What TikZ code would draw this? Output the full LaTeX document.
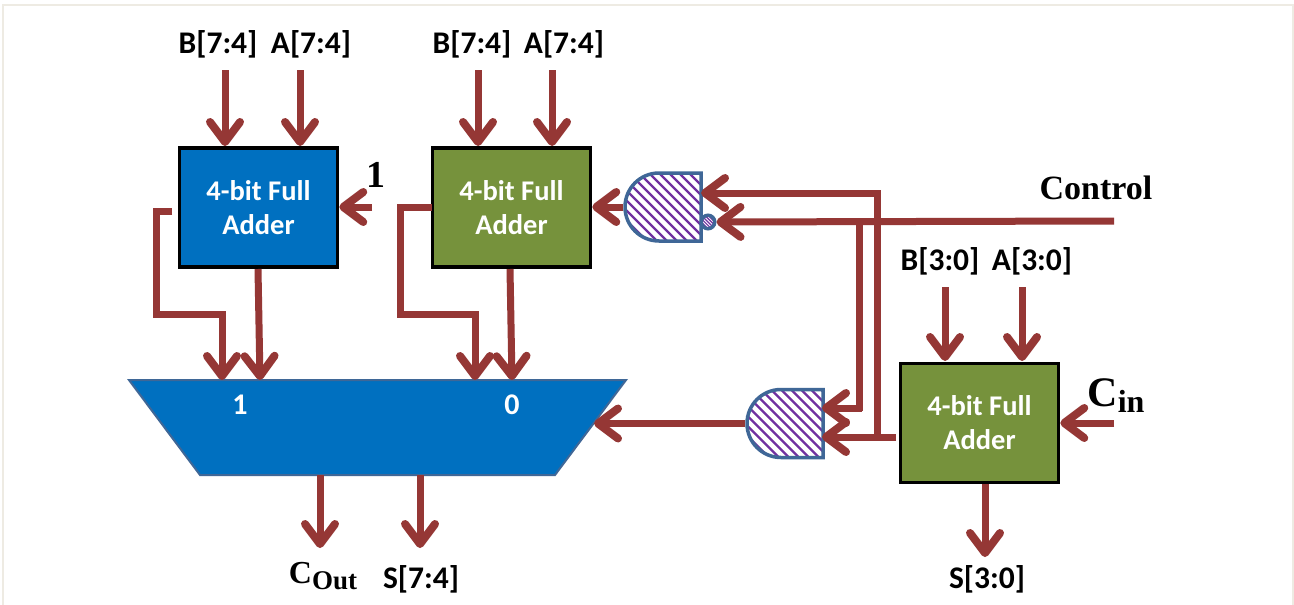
\documentclass[tikz,border=0pt]{standalone}
\usepackage{fontspec}
\setmainfont{Carlito}
\newfontfamily\serifb{Liberation Serif}
\usetikzlibrary{arrows.meta,shapes.misc,shapes.geometric}
\definecolor{wire}{HTML}{953735}
\definecolor{bluefill}{HTML}{0070C0}
\definecolor{greenfill}{HTML}{76923C}
\definecolor{gateline}{HTML}{3F6797}
\definecolor{hatch}{HTML}{7030A0}
\definecolor{framec}{HTML}{EEEBE3}
\tikzset{
  wirel/.style={draw=wire,line width=7pt,line cap=butt,line join=miter,-{Straight Barb[length=20pt,width=30pt,line width=8pt,round]}},
  plainwire/.style={draw=wire,line width=7pt,line join=miter},
  adder/.style={draw=black,line width=3.5pt,minimum width=158pt,minimum height=119pt,inner sep=0pt,align=center,text=white,font=\bfseries\fontsize{28.5}{34}\selectfont},
  lab/.style={inner sep=0pt,font=\bfseries\fontsize{31.5}{34}\selectfont},
  serlab/.style={inner sep=0pt,font=\serifb\bfseries\fontsize{34}{36}\selectfont},
  gatehatch/.style={path picture={
    \foreach \k in {-12,...,12}{
      \draw[hatch,line width=2.4pt] ([xshift=\k*10pt-60pt,yshift=60pt]path picture bounding box.center) -- ++(120pt,-120pt);
    }}},
  gate/.style={rounded rectangle,rounded rectangle right arc=none,draw=gateline,line width=3.5pt,fill=white,
    minimum width=76pt,minimum height=68pt,inner sep=0pt,gatehatch},
  bubble/.style={circle,draw=gateline,line width=3.5pt,fill=white,minimum size=13.5pt,inner sep=0pt,
    path picture={\foreach \k in {-4,...,4}{\draw[hatch,line width=1.2pt] ([xshift=\k*3.4pt-15pt,yshift=15pt]path picture bounding box.center) -- ++(30pt,-30pt);}}},
}
\begin{document}
\begin{tikzpicture}[x=1pt,y=-1pt]
\useasboundingbox (0,0) rectangle (1294,605);
\fill[white] (0,0) rectangle (1294,605);
\draw[framec,line width=2.5pt] (3,605) -- (3,5) -- (1293,5) -- (1293,605);
% blocks
\node[adder,fill=bluefill] (fa1) at (258.5,207.5) {4-bit Full\\Adder};
\node[adder,fill=greenfill] (fa2) at (511.5,207.5) {4-bit Full\\Adder};
\node[adder,fill=greenfill] (fa3) at (979.5,423) {4-bit Full\\Adder};
\path[fill=bluefill,draw=gateline,line width=2pt] (129,380) coordinate (m1) -- (626,380) coordinate (m2) -- (555,475) coordinate (m3) -- (200,475) coordinate (m4) -- cycle;
\node[inner sep=0pt,text=white,font=\bfseries\fontsize{30}{32}\selectfont] (mone) at (240,405) {1};
\node[inner sep=0pt,text=white,font=\bfseries\fontsize{30}{32}\selectfont] (mzero) at (512,405) {0};
\node[gate] (g1) at (663,207) {};
\node[bubble] (bub) at (708,222) {};
\node[gate] (g2) at (785,423.5) {};
% labels
\node[lab] (b1) at (218,44) {B[7:4]};
\node[lab] (a1) at (311,44) {A[7:4]};
\node[lab] (b2) at (472,44) {B[7:4]};
\node[lab] (a2) at (564,44) {A[7:4]};
\node[lab] (b3) at (940,261) {B[3:0]};
\node[lab] (a3) at (1032,261) {A[3:0]};
\node[lab] (s3) at (987,579) {S[3:0]};
\node[lab] (s7) at (421,579) {S[7:4]};
\node[inner sep=0pt,font=\serifb\bfseries\fontsize{38}{40}\selectfont] (one) at (376,175) {1};
\node[serlab] (ctrl) at (1096,188) {Control};
\node[inner sep=0pt,font=\serifb\bfseries\fontsize{42}{44}\selectfont] (cin) at (1116,396) {C\raisebox{-6pt}{\fontsize{32}{34}\selectfont in}};
\node[inner sep=0pt,font=\serifb\bfseries\fontsize{32}{34}\selectfont] (cout) at (323,576) {C\raisebox{-6pt}{\fontsize{27}{28}\selectfont Out}};
% wires
\coordinate (b1s) at (225,70); \coordinate (b1e) at (225,146);
\coordinate (a1s) at (300,70); \coordinate (a1e) at (300,146);
\coordinate (b2s) at (478,70); \coordinate (b2e) at (478,146);
\coordinate (a2s) at (552,70); \coordinate (a2e) at (552,146);
\draw[wirel] (b1s) -- (b1e);
\draw[wirel] (a1s) -- (a1e);
\draw[wirel] (b2s) -- (b2e);
\draw[wirel] (a2s) -- (a2e);
\coordinate (ones) at (372,207);
\draw[wirel] (ones) -- (fa1.east |- ones);
\draw[wirel] (172,211) coordinate (c1) -- (156,211) -- (156,314) -- (222,314) -- (222,380);
\draw[wirel] (258,269) coordinate (d1) -- (260,380) coordinate (d1e);
\draw[wirel] (432,207) coordinate (c2) -- (400,207) -- (400,314) -- (475,314) -- (475,380);
\draw[wirel] (510,269) coordinate (d2) -- (512,380) coordinate (d2e);
\draw[wirel] (g1.west) -- (fa2.east |- g1.west);
\coordinate (ctrlend) at (1114,221);
\draw[wirel] (ctrlend) -- (bub.east);
\draw[wirel] (877.5,193) coordinate (top) -- (701,193);
\draw[plainwire] (877.5,190) -- (877.5,437);
\draw[plainwire] (859,221) -- (859,411);
\draw[wirel] (862,408) -- (822,408);
\draw[wirel] (896,437) -- (822,437);
\draw[wirel] (g2.west) -- (594,423.5);
\coordinate (b3s) at (945,287); \coordinate (a3s) at (1022,287);
\draw[wirel] (b3s) -- (945,361);
\draw[wirel] (a3s) -- (1022,361);
\draw[wirel] (1114,423) -- (fa3.east |- 1114,423);
\draw[wirel] (985,484) -- (985,557);
\draw[wirel] (320,475) -- (320,548);
\draw[wirel] (420,475) -- (420,548);
\end{tikzpicture}
\end{document}
